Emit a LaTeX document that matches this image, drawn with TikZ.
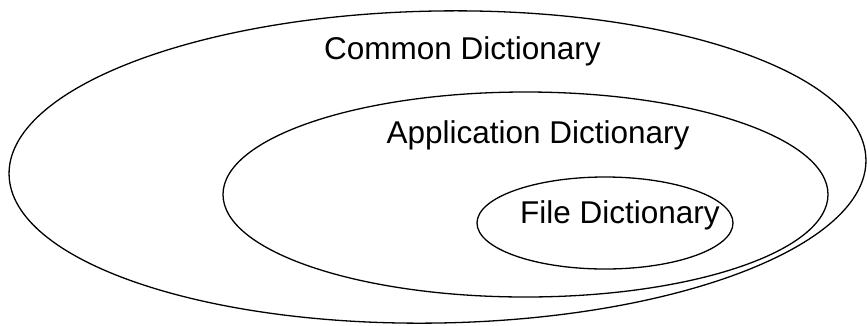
\documentclass[tikz,border=0pt]{standalone}
\usepackage{fontspec}
\setmainfont{Liberation Sans}
\begin{document}
\begin{tikzpicture}[x=1pt,y=-1pt,
  ring/.style={draw=black,line width=1.3pt},
  lbl/.style={anchor=base,inner sep=0pt,font=\fontsize{31.5}{36}\selectfont}]
\useasboundingbox (0,0) rectangle (867,325);
% nested dictionaries
\draw[ring,rotate around={1:(437.5,167)}] (437.5,167) ellipse [x radius=428.5pt, y radius=156pt];
\draw[ring] (525.5,194.5) ellipse [x radius=302.5pt, y radius=102.5pt];
\draw[ring] (605,223) ellipse [x radius=128pt, y radius=46pt];
% labels
\node[lbl] (common) at (462.5,59) {Common Dictionary};
\node[lbl] (app) at (538,143) {Application Dictionary};
\node[lbl] (file) at (620,223) {File Dictionary};
\end{tikzpicture}
\end{document}
